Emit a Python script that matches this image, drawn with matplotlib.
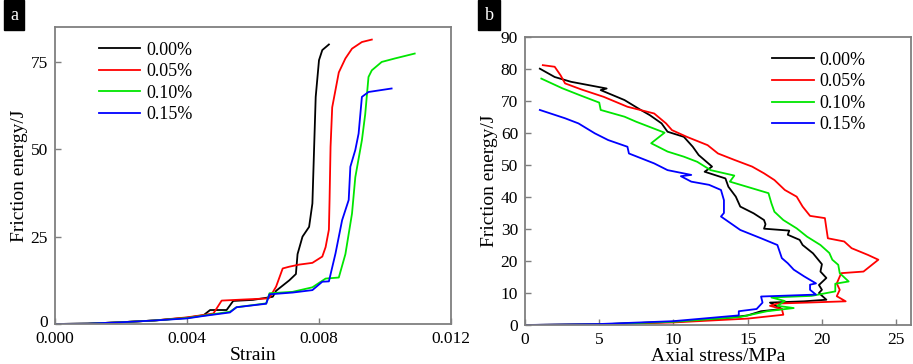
import matplotlib
matplotlib.use("Agg")
import matplotlib.pyplot as plt
import matplotlib.transforms as mtransforms

plt.rcParams['font.family'] = ['Liberation Serif', 'DejaVu Serif']

labels = ["0.00%", "0.05%", "0.10%", "0.15%"]
colors = ["black", "#ff0000", "#00e600", "#0000ff"]

# panel a : friction energy vs strain
a_strain_0 = [0, 0.001, 0.002, 0.003, 0.004, 0.0045, 0.0047, 0.0052, 0.0054, 0.0060, 0.0066, 0.0067, 0.0069,
              0.0071, 0.0073, 0.00735, 0.0075, 0.0077, 0.0078, 0.00785, 0.0079, 0.0080, 0.0081, 0.0083]
a_energy_0 = [0, 0.1, 0.5, 1.0, 1.8, 2.5, 4.0, 4.0, 6.6, 6.9, 7.8, 9.5, 11.0,
              12.5, 14.3, 20.0, 25.0, 27.8, 34.5, 49.8, 65.0, 75.5, 78.4, 80.0]
a_strain_1 = [0, 0.001, 0.002, 0.003, 0.004, 0.0048, 0.00505, 0.0057, 0.0064, 0.0065, 0.0067, 0.0069, 0.0071,
              0.0074, 0.0078, 0.0081, 0.0082, 0.0083, 0.00832, 0.00835, 0.0084, 0.0086, 0.0088, 0.0090,
              0.0093, 0.0096]
a_energy_1 = [0, 0.1, 0.5, 1.0, 1.9, 3.0, 6.7, 7.0, 7.3, 7.5, 10.7, 15.9, 16.4,
              17.0, 17.5, 19.3, 22.0, 27.0, 35.5, 50.7, 62.0, 72.0, 76.0, 78.8,
              80.7, 81.4]
a_strain_2 = [0, 0.001, 0.002, 0.003, 0.004, 0.0045, 0.0053, 0.0055, 0.0064, 0.0065, 0.0072, 0.0078, 0.0082,
              0.0086, 0.0088, 0.0090, 0.0091, 0.0093, 0.0094, 0.0095, 0.0096, 0.0099, 0.0103, 0.0109]
a_energy_2 = [0, 0.1, 0.5, 1.0, 1.7, 2.4, 3.5, 4.8, 5.9, 8.8, 9.2, 10.5, 13.0,
              13.3, 20.0, 31.6, 42.0, 52.6, 60.0, 70.7, 72.6, 75.0, 76.0, 77.4]
a_strain_3 = [0, 0.001, 0.002, 0.003, 0.004, 0.0045, 0.0053, 0.0055, 0.0064, 0.0065, 0.0072, 0.0078, 0.0081,
              0.0083, 0.0085, 0.0087, 0.0089, 0.00895, 0.0091, 0.0092, 0.0093, 0.0095, 0.0102]
a_energy_3 = [0, 0.1, 0.5, 1.0, 1.6, 2.3, 3.3, 4.8, 5.8, 8.5, 9.0, 9.7, 12.1,
              12.2, 20.2, 29.7, 35.5, 45.0, 49.8, 54.5, 65.0, 66.4, 67.4]

# panel b : friction energy vs axial stress
b_stress_0 = [0, 5, 10, 13, 15, 15.9, 17.3, 16.5, 18.8, 20.3, 19.8, 20.0, 19.8, 20.3, 19.9, 20.0, 19.4, 18.7,
              18.5, 17.7, 17.8, 16.1, 16.2, 16.1, 15.4, 14.5, 14.2, 13.7, 13.5, 12.1, 12.6, 11.7, 11.3, 10.7,
              9.6, 9.2, 8.4, 7.8, 6.7, 5.1, 5.5, 3.1, 2.0, 1.0]
b_energy_0 = [0, 0.2, 1.0, 1.8, 3.0, 4.3, 5.0, 7.0, 7.4, 7.9, 10.0, 11.0, 12.5, 14.7, 16.7, 19.0, 22.4, 25.0,
              26.6, 28.2, 29.5, 30.1, 31.5, 32.8, 34.9, 37.0, 40.1, 43.2, 45.8, 47.9, 49.5, 53.1, 55.7, 58.8,
              60.4, 63.0, 65.6, 67.2, 70.3, 73.4, 73.9, 76.0, 77.5, 80.1]
b_stress_1 = [0, 5, 10, 15, 17.4, 17.3, 16.5, 17.0, 21.6, 21.0, 21.2, 21.0, 21.3, 22.8, 23.8, 23.1, 22.0, 21.5,
              20.4, 20.3, 20.2, 19.2, 18.7, 18.3, 17.5, 16.8, 16.1, 15.3, 14.1, 13.0, 12.3, 10.9, 9.9, 9.5,
              8.7, 6.9, 5.3, 3.8, 2.7, 2.4, 2.0, 1.2]
b_energy_1 = [0, 0.2, 0.8, 2.0, 3.2, 5.0, 6.0, 6.7, 7.4, 9.0, 11.0, 13.0, 16.2, 16.7, 20.4, 21.9, 24.0, 26.1,
              27.1, 30.2, 33.4, 34.1, 37.0, 40.1, 42.2, 45.3, 47.4, 49.5, 51.6, 53.6, 56.2, 58.8, 60.9, 63.0,
              66.1, 68.2, 71.3, 73.6, 75.5, 78.0, 80.7, 81.2]
b_stress_2 = [0, 5, 10, 14.5, 16.3, 18.1, 17.0, 17.5, 16.6, 19.3, 20.9, 20.9, 21.8, 21.2, 21.1, 20.7, 20.5,
              19.9, 19.0, 18.3, 17.4, 16.8, 16.6, 16.4, 15.1, 13.8, 14.1, 12.5, 11.6, 10.7, 9.6, 8.5, 9.4,
              7.5, 6.7, 5.1, 5.0, 3.7, 2.5, 1.1]
b_energy_2 = [0, 0.2, 1.0, 2.5, 4.3, 5.3, 6.0, 7.5, 8.6, 9.1, 10.5, 12.9, 13.6, 16.2, 18.8, 20.4, 22.5,
              25.0, 27.6, 30.2, 32.8, 35.4, 38.0, 41.2, 43.0, 44.8, 46.7, 48.4, 51.0, 52.6, 54.2, 56.8, 60.1,
              63.5, 65.1, 67.2, 69.5, 71.8, 74.0, 77.0]
b_stress_3 = [0, 5, 10, 14.4, 14.4, 15.6, 16.0, 15.9, 19.6, 19.2, 19.2, 19.6, 18.8, 18.1, 17.7, 17.3, 17.0,
              15.9, 14.5, 13.2, 13.4, 13.4, 13.2, 12.4, 11.2, 10.5, 11.2, 9.6, 8.7, 7.0, 6.9, 5.6, 4.7, 3.6,
              2.7, 1.0]
b_energy_3 = [0, 0.3, 1.2, 3.0, 4.3, 5.0, 7.0, 8.9, 9.5, 11.0, 12.6, 13.0, 15.2, 17.3, 19.3, 20.9, 25.0,
              27.1, 29.7, 33.9, 35.0, 39.0, 42.2, 43.8, 44.8, 46.5, 46.9, 48.4, 50.5, 53.6, 55.7, 57.8, 59.9,
              63.0, 64.6, 67.2]

a_x = [a_strain_0, a_strain_1, a_strain_2, a_strain_3]
a_y = [a_energy_0, a_energy_1, a_energy_2, a_energy_3]
b_x = [b_stress_0, b_stress_1, b_stress_2, b_stress_3]
b_y = [b_energy_0, b_energy_1, b_energy_2, b_energy_3]

W, H = 913, 364
fig = plt.figure(figsize=(W / 100, H / 100), dpi=100)


def box(l, t, r, b):
    return [l / W, 1 - b / H, (r - l) / W, (b - t) / H]


def style(ax):
    for s in ax.spines.values():
        s.set_color("#7f7f7f")
        s.set_linewidth(1.3)
    ax.tick_params(direction="in", length=4, width=1, color="#7f7f7f", labelsize=12.5, pad=5)
    ax.tick_params(axis="x", pad=5)


# panel a
ax1 = fig.add_axes(box(55, 27, 451, 324))
for x, y, c, lab in zip(a_x, a_y, colors, labels):
    ax1.plot(x, y, color=c, lw=1.3, label=lab)
ax1.set_xlim(0, 0.012)
ax1.set_ylim(0, 85)
ax1.set_xticks([0, 0.004, 0.008, 0.012])
ax1.set_xticklabels(["0.000", "0.004", "0.008", "0.012"])
ax1.set_yticks([0, 25, 50, 75])
ax1.set_xlabel("Strain", fontsize=14, labelpad=0)
ax1.set_ylabel("Friction energy/J", fontsize=14, labelpad=2)
style(ax1)
# nudge the y "0" up a little so it clears the "0.000" below it
lab0 = ax1.get_yticklabels()[0]
lab0.set_transform(lab0.get_transform() + mtransforms.ScaledTranslation(0, 3 / 100, fig.dpi_scale_trans))
ax1.legend(loc="upper left", bbox_to_anchor=(0.07, 1.005), frameon=False, fontsize=13,
           handlelength=2.3, handletextpad=0.3, labelspacing=0.25)

# panel b
ax2 = fig.add_axes(box(525, 37, 911, 325))
for x, y, c, lab in zip(b_x, b_y, colors, labels):
    ax2.plot(x, y, color=c, lw=1.3, label=lab)
ax2.set_xlim(0, 26)
ax2.set_ylim(0, 90)
ax2.set_xticks([0, 5, 10, 15, 20, 25])
ax2.set_yticks(range(0, 91, 10))
ax2.set_xlabel("Axial stress/MPa", fontsize=14, labelpad=0)
ax2.set_ylabel("Friction energy/J", fontsize=14, labelpad=2)
style(ax2)
ax2.legend(loc="upper right", bbox_to_anchor=(0.925, 1.005), frameon=False, fontsize=13,
           handlelength=2.3, handletextpad=0.3, labelspacing=0.25)

# panel letters
fig.text(14 / W, 1 - 15 / H, "a", color="white", fontsize=13, ha="center", va="center",
         bbox=dict(boxstyle="square,pad=0.35", fc="black", ec="black"))
fig.text(489 / W, 1 - 15 / H, "b", color="white", fontsize=13, ha="center", va="center",
         bbox=dict(boxstyle="square,pad=0.35", fc="black", ec="black"))

fig.savefig("out.png", dpi=100)
